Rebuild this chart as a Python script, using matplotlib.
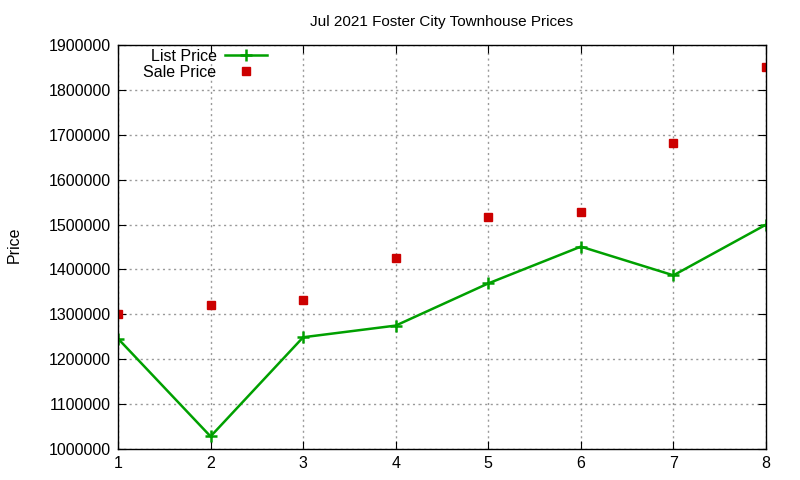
import matplotlib
matplotlib.use("Agg")
import matplotlib.pyplot as plt
from matplotlib.ticker import FormatStrFormatter

# data
homes = [1, 2, 3, 4, 5, 6, 7, 8]
list_price = [1246000, 1028000, 1249000, 1275000, 1369000, 1451000, 1387000, 1500000]
sale_price = [1300000, 1320000, 1331000, 1425000, 1517000, 1528000, 1681000, 1852000]
y_ticks = list(range(1000000, 1900001, 100000))

plt.rcParams["font.family"] = ["Liberation Sans", "DejaVu Sans"]

fig = plt.figure(figsize=(8, 4.8), dpi=100)
ax = fig.add_axes([0.1475, 0.0646, 0.81, 0.8414])

ax.plot(homes, list_price, color="#00a000", lw=1.8, marker="+", ms=9, mew=1.8,
        label="List Price")
ax.plot(homes, sale_price, ls="none", marker="s", ms=5.5, color="#cc0000",
        label="Sale Price")

ax.set_xlim(1, 8)
ax.set_ylim(1000000, 1900000)
ax.set_xticks(homes)
ax.set_yticks(y_ticks)
ax.yaxis.set_major_formatter(FormatStrFormatter("%d"))
ax.tick_params(direction="in", length=6, labelsize=11.5, top=True, right=True,
               pad=5)
ax.grid(True, color="#999999", ls=(0, (1.5, 2.5)), lw=1)
for s in ax.spines.values():
    s.set_linewidth(1)

ax.set_title("Jul 2021 Foster City Townhouse Prices", fontsize=11, pad=14)
fig.text(0.008, 0.49, "Price", rotation=90, fontsize=11.5, va="center")

ax.legend(loc="upper left", frameon=False, markerfirst=False, fontsize=11.5,
          handlelength=2.6, handletextpad=0.55, borderaxespad=0.1,
          labelspacing=0.05, bbox_to_anchor=(0.027, 1.01))

fig.savefig("out.png", dpi=100)
